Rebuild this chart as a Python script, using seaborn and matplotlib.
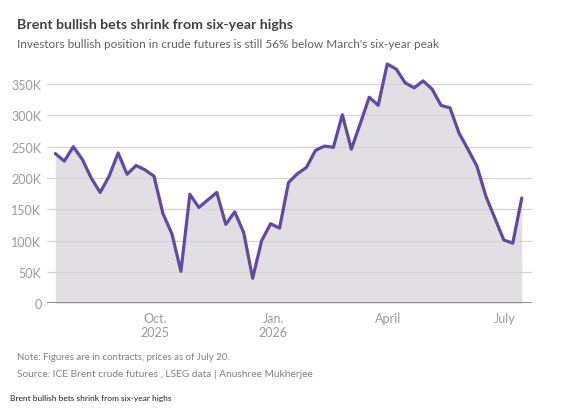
import pandas as pd
import matplotlib.pyplot as plt
from matplotlib.ticker import FuncFormatter
import seaborn as sns

# Weekly net long positions, ICE Brent (thousands of contracts)
start_date = "2025-07-15"
net_long_k = [239, 227, 250, 230, 200, 177, 203, 240, 206, 220,
              213, 203, 143, 111, 51, 174, 153, 165, 177, 126,
              146, 113, 40, 100, 127, 120, 193, 207, 217, 244,
              251, 249, 301, 246, 287, 329, 316, 382, 374, 352,
              344, 355, 342, 316, 312, 272, 246, 219, 171, 136,
              101, 96, 168]
tick_dates = ["2025-10-01", "2026-01-01", "2026-04-01", "2026-07-01"]
tick_labels = ["Oct.\n2025", "Jan.\n2026", "April", "July"]
y_ticks = [0, 50, 100, 150, 200, 250, 300, 350]

df = pd.DataFrame({
    "date": pd.date_range(start_date, periods=len(net_long_k), freq="7D"),
    "value": [v * 1000 for v in net_long_k],
})

sns.set_theme(style="white")
plt.rcParams['font.family'] = ['Lato', 'DejaVu Sans']

fig = plt.figure(figsize=(5.68, 4.14), dpi=100)
ax = fig.add_axes([47 / 568, 1 - 304.3 / 414, (532 - 47) / 568, (304.3 - 60) / 414])

line_color = "#6349a3"
ax.fill_between(df["date"], df["value"], 0, color="#e1dfe3", linewidth=0, zorder=1)
sns.lineplot(data=df, x="date", y="value", color=line_color, linewidth=2.3, ax=ax, zorder=3)

ax.set_xlim(df["date"].iloc[0] - pd.Timedelta(days=6.5), df["date"].iloc[-1] + pd.Timedelta(days=8))
ax.set_ylim(0, 390000)

ax.set_yticks([t * 1000 for t in y_ticks])
ax.yaxis.set_major_formatter(FuncFormatter(lambda v, p: "0" if v == 0 else f"{int(v / 1000)}K"))
ax.set_xticks(pd.to_datetime(tick_dates))
ax.set_xticklabels(tick_labels)

for t in y_ticks[1:]:
    ax.axhline(t * 1000, color="#d4d4d4", linewidth=0.9, zorder=2)
ax.axhline(0, color="#8a8a8a", linewidth=1.4, zorder=4)

for s in ax.spines.values():
    s.set_visible(False)
ax.tick_params(axis="both", length=0, labelsize=9, labelcolor="#9a9a9a")
ax.tick_params(axis="y", pad=4)
ax.tick_params(axis="x", pad=6)
ax.set_xlabel("")
ax.set_ylabel("")

fig.text(17 / 568, 1 - 25 / 414, "Brent bullish bets shrink from six-year highs",
         fontsize=10.2, fontweight="bold", color="#404040", va="center", ha="left")
fig.text(17 / 568, 1 - 44 / 414,
         "Investors bullish position in crude futures is still 56% below March's six-year peak",
         fontsize=8.5, color="#606060", va="center", ha="left")
fig.text(17 / 568, 1 - 358 / 414, "Note: Figures are in contracts, prices as of July 20.",
         fontsize=6.9, color="#808080", va="center", ha="left")
fig.text(17 / 568, 1 - 375 / 414, "Source: ICE Brent crude futures , LSEG data | Anushree Mukherjee",
         fontsize=7.3, color="#808080", va="center", ha="left")
fig.text(10 / 568, 1 - 399 / 414, "Brent bullish bets shrink from six-year highs",
         fontsize=6, color="#202020", va="center", ha="left")

fig.savefig("out.png", dpi=100)
